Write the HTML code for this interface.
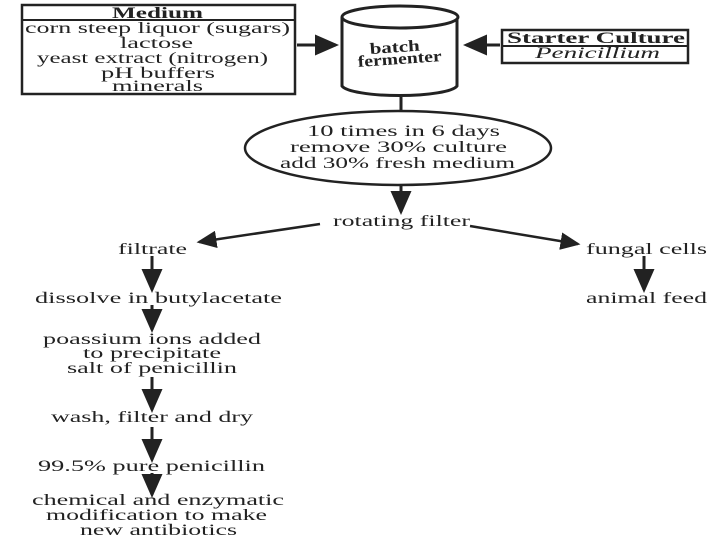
<!DOCTYPE html>
<html><head><meta charset="utf-8"><style>
html,body{margin:0;padding:0;background:#fff;width:720px;height:540px;overflow:hidden}
text{font-family:"Liberation Serif","Times New Roman",serif;font-size:16px;fill:#222}
</style></head><body>
<svg width="720" height="540" viewBox="0 0 720 540" xmlns="http://www.w3.org/2000/svg">
<defs><marker id="a" markerWidth="8" markerHeight="7" refX="7" refY="3.5" orient="auto" markerUnits="strokeWidth"><path d="M0,0 L8,3.5 L0,7 Z" fill="#222"/></marker></defs>
<g stroke="#222" fill="none">
<rect x="22" y="5" width="273" height="89" stroke-width="2.5"/>
<line x1="22" y1="20" x2="295" y2="20" stroke-width="2"/>
<rect x="502" y="30" width="186" height="33" stroke-width="2.5"/>
<line x1="502" y1="46" x2="688" y2="46" stroke-width="2"/>
<path d="M342,17 L342,86 A58,11 0 0 0 457,86 L457,17" stroke-width="3" fill="#fff"/>
<ellipse cx="400" cy="17" rx="58" ry="11" stroke-width="3" fill="#fff"/>
<ellipse cx="398" cy="148" rx="153" ry="37" stroke-width="2.5" fill="#fff"/>
<g stroke-width="3">
<line x1="297" y1="45" x2="336" y2="45" marker-end="url(#a)"/>
<line x1="500" y1="45" x2="466" y2="45" marker-end="url(#a)"/>
<line x1="401" y1="97" x2="401" y2="111"/>
<line x1="401" y1="185" x2="401" y2="212" marker-end="url(#a)"/>
<line x1="320" y1="224" x2="199" y2="242" stroke-width="2.5" marker-end="url(#a)"/>
<line x1="470" y1="226" x2="578" y2="244" stroke-width="2.5" marker-end="url(#a)"/>
<line x1="152" y1="256" x2="152" y2="290" marker-end="url(#a)"/>
<line x1="152" y1="305" x2="152" y2="330" marker-end="url(#a)"/>
<line x1="152" y1="377" x2="152" y2="410" marker-end="url(#a)"/>
<line x1="152" y1="427" x2="152" y2="460" marker-end="url(#a)"/>
<line x1="152" y1="473" x2="152" y2="495" marker-end="url(#a)"/>
<line x1="644" y1="256" x2="644" y2="290" marker-end="url(#a)"/>
</g></g>
<g>
<text x="112" y="18" textLength="91" lengthAdjust="spacingAndGlyphs" font-weight="bold">Medium</text>
<text x="25" y="33" textLength="265" lengthAdjust="spacingAndGlyphs">corn steep liquor (sugars)</text>
<text x="120" y="48" textLength="73" lengthAdjust="spacingAndGlyphs">lactose</text>
<text x="37" y="63" textLength="231" lengthAdjust="spacingAndGlyphs">yeast extract (nitrogen)</text>
<text x="101" y="78" textLength="114" lengthAdjust="spacingAndGlyphs">pH buffers</text>
<text x="112" y="91" textLength="91" lengthAdjust="spacingAndGlyphs">minerals</text>
<text x="507" y="43" textLength="178" lengthAdjust="spacingAndGlyphs" font-weight="bold">Starter Culture</text>
<text x="535" y="58" textLength="125" lengthAdjust="spacingAndGlyphs" font-style="italic">Penicillium</text>
<text x="370" y="52" textLength="50" lengthAdjust="spacingAndGlyphs" font-weight="bold" font-size="15" transform="rotate(-4 400 52)">batch</text>
<text x="358" y="64" textLength="84" lengthAdjust="spacingAndGlyphs" font-weight="bold" font-size="15" transform="rotate(-4 400 64)">fermenter</text>
<text x="307" y="136" textLength="193" lengthAdjust="spacingAndGlyphs">10 times in 6 days</text>
<text x="290" y="152" textLength="217" lengthAdjust="spacingAndGlyphs">remove 30% culture</text>
<text x="280" y="168" textLength="235" lengthAdjust="spacingAndGlyphs">add 30% fresh medium</text>
<text x="333" y="226" textLength="137" lengthAdjust="spacingAndGlyphs">rotating filter</text>
<text x="118" y="254" textLength="69" lengthAdjust="spacingAndGlyphs">filtrate</text>
<text x="586" y="254" textLength="121" lengthAdjust="spacingAndGlyphs">fungal cells</text>
<text x="35" y="303" textLength="247" lengthAdjust="spacingAndGlyphs">dissolve in butylacetate</text>
<text x="586" y="303" textLength="121" lengthAdjust="spacingAndGlyphs">animal feed</text>
<text x="43" y="344" textLength="218" lengthAdjust="spacingAndGlyphs">poassium ions added</text>
<text x="83" y="358" textLength="138" lengthAdjust="spacingAndGlyphs">to precipitate</text>
<text x="67" y="373" textLength="170" lengthAdjust="spacingAndGlyphs">salt of penicillin</text>
<text x="51" y="422" textLength="202" lengthAdjust="spacingAndGlyphs">wash, filter and dry</text>
<text x="38" y="471" textLength="227" lengthAdjust="spacingAndGlyphs">99.5% pure penicillin</text>
<text x="32" y="505" textLength="252" lengthAdjust="spacingAndGlyphs">chemical and enzymatic</text>
<text x="46" y="520" textLength="221" lengthAdjust="spacingAndGlyphs">modification to make</text>
<text x="80" y="535" textLength="157" lengthAdjust="spacingAndGlyphs">new antibiotics</text>
</g>
</svg>
</body></html>
